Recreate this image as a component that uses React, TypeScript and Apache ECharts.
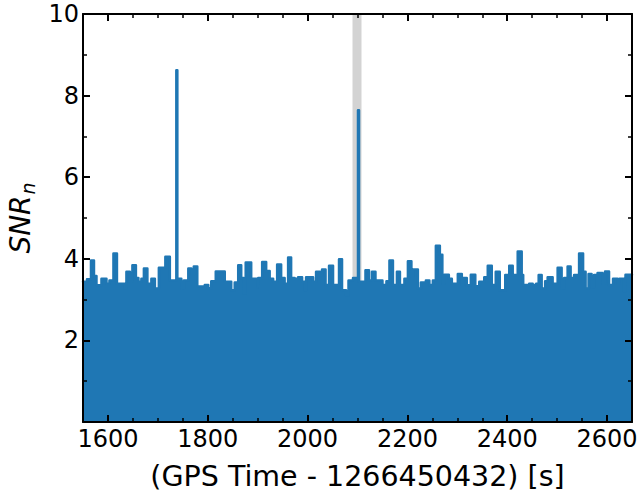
import React, { useEffect, useRef } from 'react';
import * as echarts from 'echarts';

// Segment start times (GPS Time - 1266450432, s) and SNR_n value held until the next start
const gpsTime = [
  1550, 1558, 1566, 1572, 1577, 1587, 1597, 1603, 1611, 1618, 1634, 1637, 1644, 1649, 1656, 1661, 1667, 1672, 1679, 1687,
  1694, 1702, 1715, 1724, 1737, 1739, 1747, 1752, 1761, 1767, 1772, 1779, 1794, 1801, 1807, 1816, 1834, 1847, 1854, 1861,
  1867, 1872, 1876, 1887, 1900, 1901, 1909, 1917, 1924, 1931, 1939, 1947, 1954, 1961, 1967, 1974, 1981, 1989, 1994, 1997,
  2011, 2017, 2025, 2029, 2036, 2043, 2051, 2063, 2069, 2077, 2082, 2091, 2101, 2103, 2116, 2123, 2129, 2136, 2150, 2158,
  2164, 2171, 2179, 2185, 2194, 2201, 2208, 2211, 2221, 2227, 2237, 2244, 2251, 2257, 2265, 2270, 2274, 2283, 2289, 2301,
  2309, 2312, 2319, 2327, 2336, 2344, 2354, 2361, 2369, 2377, 2385, 2396, 2404, 2411, 2421, 2429, 2432, 2444, 2451, 2458,
  2463, 2469, 2476, 2481, 2491, 2501, 2509, 2514, 2521, 2527, 2534, 2544, 2552, 2557, 2563, 2569, 2574, 2581, 2591, 2596,
  2604, 2612, 2621, 2625, 2634, 2637, 2650,
];
const snr = [
  3.44, 3.5, 3.96, 3.58, 3.35, 3.51, 3.39, 3.47, 4.13, 3.39, 3.27, 3.68, 3.44, 3.84, 3.53, 3.44, 3.51, 3.76, 3.39, 3.51,
  3.27, 3.78, 4.05, 3.47, 8.62, 3.51, 3.27, 3.47, 3.76, 3.61, 3.81, 3.32, 3.36, 3.28, 3.45, 3.69, 3.44, 3.23, 3.42, 3.84,
  3.53, 3.15, 3.91, 3.51, 3.3, 3.53, 3.92, 3.7, 3.51, 3.44, 3.86, 3.53, 3.39, 4.03, 3.53, 3.51, 3.55, 3.44, 3.23, 3.55,
  3.44, 3.68, 3.6, 3.74, 3.36, 3.83, 3.36, 3.99, 3.23, 3.1, 3.47, 3.53, 7.64, 3.44, 3.72, 3.47, 3.68, 3.47, 3.36, 3.45,
  3.96, 3.36, 3.68, 3.36, 3.51, 3.94, 3.51, 3.74, 3.27, 3.42, 3.47, 3.36, 3.47, 4.32, 4.1, 3.39, 3.61, 3.51, 3.39, 3.63,
  3.36, 3.53, 3.35, 3.61, 3.33, 3.44, 3.55, 3.83, 3.36, 3.68, 3.23, 3.6, 3.83, 3.6, 4.18, 3.6, 3.36, 3.39, 3.36, 3.39,
  3.6, 3.27, 3.45, 3.55, 3.39, 3.78, 3.27, 3.53, 3.81, 3.53, 3.6, 4.13, 3.68, 3.27, 3.63, 3.3, 3.6, 3.65, 3.39, 3.69,
  3.36, 3.51, 3.39, 3.51, 3.2, 3.61, 3.61,
];

// Flagged (grey) interval
const flagStart = 2090;
const flagEnd = 2108;

const xMin = 1550;
const xMax = 2650;
const yMin = 0;
const yMax = 10;

export default function App() {
  const ref = useRef<HTMLDivElement>(null);

  useEffect(() => {
    if (!ref.current) return;
    const chart = echarts.init(ref.current, null, { renderer: 'svg' });
    const font = '"DejaVu Sans", Verdana, sans-serif';
    const black = '#000';
    const lineData = gpsTime.map((t, i) => [t, snr[i]]);

    const axisLine = () => ({ show: true, onZero: false, lineStyle: { color: black, width: 2 } });
    const majorTick = () => ({ show: true, inside: true, length: 7, lineStyle: { color: black, width: 2 } });
    const minorTick = (n: number) => ({ show: true, splitNumber: n, length: 4, lineStyle: { color: black, width: 1.5 } });

    chart.setOption({
      animation: false,
      grid: {
        left: 83,
        right: 9,
        top: 14,
        bottom: 73,
        containLabel: false,
        outerBoundsMode: 'none',
      },
      xAxis: [
        {
          type: 'value',
          min: xMin,
          max: xMax,
          splitNumber: 5,
          position: 'bottom',
          z: 10,
          name: '(GPS Time - 1266450432) [s]',
          nameLocation: 'middle',
          nameGap: 40,
          nameTextStyle: { fontFamily: font, fontSize: 28.5, color: black },
          axisLine: axisLine(),
          axisTick: majorTick(),
          minorTick: minorTick(4),
          splitLine: { show: false },
          minorSplitLine: { show: false },
          axisLabel: {
            fontFamily: font,
            fontSize: 24,
            color: black,
            margin: 5,
            formatter: (v: number) => (v % 200 === 0 ? String(v) : ''),
          },
        },
        {
          type: 'value',
          min: xMin,
          max: xMax,
          splitNumber: 5,
          position: 'top',
          z: 10,
          axisLine: axisLine(),
          axisTick: majorTick(),
          minorTick: minorTick(4),
          splitLine: { show: false },
          axisLabel: { show: false },
        },
      ],
      yAxis: [
        {
          type: 'value',
          min: yMin,
          max: yMax,
          interval: 2,
          position: 'left',
          z: 10,
          name: '{a|SNR}{b|n}',
          nameLocation: 'middle',
          nameGap: 46,
          nameTextStyle: {
            rich: {
              a: { fontFamily: font, fontSize: 28, fontStyle: 'italic', color: black },
              b: { fontFamily: font, fontSize: 19, fontStyle: 'italic', color: black, padding: [14, 0, 0, 1] },
            },
          },
          axisLine: axisLine(),
          axisTick: majorTick(),
          minorTick: minorTick(2),
          splitLine: { show: false },
          axisLabel: {
            fontFamily: font,
            fontSize: 24,
            color: black,
            margin: 4,
            formatter: (v: number) => (v === 0 ? '' : String(v)),
          },
        },
        {
          type: 'value',
          min: yMin,
          max: yMax,
          interval: 2,
          position: 'right',
          z: 10,
          axisLine: axisLine(),
          axisTick: majorTick(),
          minorTick: minorTick(2),
          splitLine: { show: false },
          axisLabel: { show: false },
        },
      ],
      series: [
        {
          type: 'line',
          data: lineData,
          step: 'end',
          symbol: 'none',
          showSymbol: false,
          lineStyle: { color: '#1f77b4', width: 2.5, join: 'round', cap: 'round' },
          areaStyle: { color: '#1f77b4', opacity: 1 },
          z: 2,
        },
        {
          type: 'line',
          data: [],
          symbol: 'none',
          z: 5,
          markArea: {
            silent: true,
            itemStyle: { color: 'rgba(128,128,128,0.35)' },
            data: [[{ xAxis: flagStart }, { xAxis: flagEnd }]],
          },
        },
      ],
    });

    return () => chart.dispose();
  }, []);

  return (
    <div
      ref={ref}
      style={{ position: 'absolute', left: 0, top: 0, width: 641, height: 495 }}
    />
  );
}
